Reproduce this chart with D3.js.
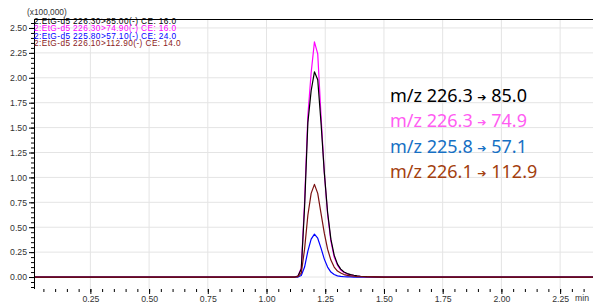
<!DOCTYPE html>
<html>
<head>
<meta charset="utf-8">
<script src="https://cdn.jsdelivr.net/npm/d3@7"></script>
<style>
  body { margin: 0; background: #fff; }
  svg { display: block; }
  .small { font-family: "Liberation Sans", Arial, sans-serif; }
  .note { font-family: "Noto Sans", sans-serif; }
  .arrow { font-family: "DejaVu Sans", sans-serif; }
</style>
</head>
<body>
<div id="chart"></div>
<script>
// retention time (min) and intensity (x100,000)
var times = [0.01, 1.12, 1.134, 1.148, 1.162, 1.176, 1.190, 1.204, 1.218, 1.232, 1.246, 1.260, 1.274, 1.288, 1.302, 1.316, 1.330, 1.344, 1.358, 1.372, 1.386, 1.400, 1.428, 1.456, 1.50, 2.39];
var black   = [0, 0, 0.01, 0.08, 0.70, 1.55, 1.87, 2.06, 1.98, 1.55, 1.05, 0.65, 0.38, 0.22, 0.13, 0.08, 0.05, 0.035, 0.025, 0.018, 0.012, 0.008, 0.004, 0.002, 0, 0];
var magenta = [0, 0, 0.01, 0.09, 0.75, 1.62, 2.05, 2.36, 2.24, 1.62, 1.05, 0.63, 0.36, 0.20, 0.12, 0.07, 0.045, 0.03, 0.022, 0.015, 0.01, 0.007, 0.004, 0.002, 0, 0];
var blue    = [0, 0, 0, 0.015, 0.10, 0.26, 0.38, 0.43, 0.39, 0.29, 0.18, 0.10, 0.05, 0.025, 0.012, 0.006, 0.003, 0.002, 0.001, 0, 0, 0, 0, 0, 0, 0];
var brown   = [0, 0, 0.005, 0.04, 0.28, 0.62, 0.84, 0.93, 0.84, 0.64, 0.44, 0.28, 0.17, 0.10, 0.06, 0.04, 0.025, 0.017, 0.012, 0.008, 0.005, 0.003, 0.002, 0.001, 0, 0];

var legendLines = ["2:EtG-d5 226.30>85.00(-) CE: 16.0", "2:EtG-d5 226.30>74.90(-) CE: 16.0", "2:EtG-d5 225.80>57.10(-) CE: 24.0", "2:EtG-d5 226.10>112.90(-) CE: 14.0"];
var legendColors = ["#000000", "#ff00ff", "#0000ff", "#8b1a1a"];
var noteFrom = ["226.3", "226.3", "225.8", "226.1"];
var noteTo = ["85.0", "74.9", "57.1", "112.9"];
var noteColors = ["#000000", "#ff5cf2", "#1670c4", "#a3400e"];
var xTicks = [0.25, 0.50, 0.75, 1.00, 1.25, 1.50, 1.75, 2.00, 2.25];
var yTicks = [0, 0.25, 0.5, 0.75, 1.0, 1.25, 1.5, 1.75, 2.0, 2.25, 2.5];

var width = 593, height = 303;
var mLeft = 34, mTop = 19, mBottom = 289;

var svg = d3.select("#chart").append("svg")
    .attr("width", width)
    .attr("height", height);

var x = d3.scaleLinear().domain([0.01, 2.39]).range([mLeft, width]);
var y = d3.scaleLinear().domain([-0.12, 2.59]).range([mBottom, mTop]);

// grid
svg.append("g").selectAll("line")
  .data(xTicks).enter().append("line")
    .attr("x1", d => x(d)).attr("x2", d => x(d))
    .attr("y1", mTop).attr("y2", mBottom)
    .attr("stroke", "#e4e4e4").attr("stroke-width", 1);
svg.append("g").selectAll("line")
  .data(yTicks).enter().append("line")
    .attr("x1", mLeft).attr("x2", width)
    .attr("y1", d => y(d)).attr("y2", d => y(d))
    .attr("stroke", "#e4e4e4").attr("stroke-width", 1);

// traces
var series = [
  {v: blue, c: "#0000ff"},
  {v: magenta, c: "#ff00ff"},
  {v: black, c: "#000000"},
  {v: brown, c: "#7a1010"}
];
var line = d3.line()
    .x(function(d) { return x(d[0]); })
    .y(function(d) { return y(d[1]); });
series.forEach(function(s) {
  svg.append("path")
    .datum(times.map(function(t, i) { return [t, s.v[i]]; }))
    .attr("fill", "none")
    .attr("stroke", s.c)
    .attr("stroke-width", 1.2)
    .attr("stroke-linejoin", "round")
    .attr("d", line);
});

// axes
var minorX = d3.range(0.05, 2.39, 0.05);
var minorY = d3.range(-0.10, 2.59, 0.05);

svg.append("g").attr("transform", "translate(0," + mBottom + ")")
  .call(d3.axisBottom(x).tickValues(minorX).tickSize(3).tickFormat(""))
  .call(g => g.select(".domain").remove());
svg.append("g").attr("class", "small").attr("transform", "translate(0," + mBottom + ")")
  .call(d3.axisBottom(x).tickValues(xTicks).tickSize(5).tickPadding(2).tickFormat(d3.format(".2f")))
  .call(g => g.select(".domain").remove())
  .call(g => g.selectAll("text").attr("font-size", 8.7).attr("fill", "#333"));

svg.append("g").attr("transform", "translate(" + mLeft + ",0)")
  .call(d3.axisLeft(y).tickValues(minorY).tickSize(3).tickFormat(""))
  .call(g => g.select(".domain").remove());
svg.append("g").attr("class", "small").attr("transform", "translate(" + mLeft + ",0)")
  .call(d3.axisLeft(y).tickValues(yTicks).tickSize(5).tickPadding(2).tickFormat(d3.format(".2f")))
  .call(g => g.select(".domain").remove())
  .call(g => g.selectAll("text").attr("font-size", 8.7).attr("fill", "#333"));

svg.append("line").attr("x1", mLeft + 0.5).attr("x2", mLeft + 0.5).attr("y1", mTop).attr("y2", mBottom).attr("stroke", "#000");
svg.append("line").attr("x1", mLeft).attr("x2", width).attr("y1", mTop + 0.5).attr("y2", mTop + 0.5).attr("stroke", "#000");

svg.append("text").attr("class", "small").attr("x", 27).attr("y", 15).attr("font-size", 8.3).attr("fill", "#333").text("(x100,000)");
svg.append("text").attr("class", "small").attr("x", 575).attr("y", 301).attr("font-size", 8.7).attr("fill", "#333").text("min");

// legend
legendLines.forEach(function(t, i) {
  svg.append("text")
    .attr("class", "small")
    .attr("x", 34).attr("y", 24 + i * 7.4)
    .attr("font-size", 8.3)
    .attr("letter-spacing", 0.4)
    .attr("fill", legendColors[i])
    .text(t);
});

// transition annotation
noteFrom.forEach(function(f, i) {
  var t = svg.append("text")
    .attr("class", "note")
    .attr("x", 390).attr("y", 102 + i * 25.4)
    .attr("font-size", 18)
    .attr("fill", noteColors[i]);
  t.append("tspan").text("m/z " + f + " ");
  t.append("tspan").attr("class", "arrow").attr("font-size", 11).attr("dy", -1).text("\u2794");
  t.append("tspan").attr("dy", 1).text(" " + noteTo[i]);
});
</script>
</body>
</html>
